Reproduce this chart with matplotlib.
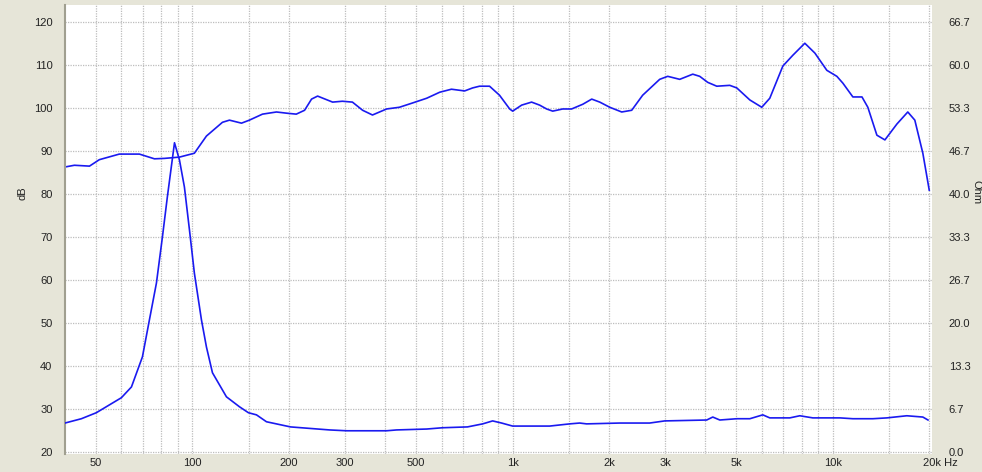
import matplotlib
matplotlib.use("Agg")
import matplotlib.pyplot as plt
import matplotlib.transforms as mtransforms
import numpy as np

# ---- data ----
spl_freq = [40, 42.8, 47.7, 51.2, 59.1, 68.3, 76.1, 81.8, 91.1, 101.4, 110.6, 124.1,
            130.5, 142.3, 150.6, 165.5, 183, 198, 211, 224, 235.5, 246, 274, 294, 316,
            340, 365, 404, 443, 487, 539, 592, 644, 708, 750, 788, 847, 910, 979, 1000,
            1067, 1146, 1214, 1277, 1334, 1433, 1528, 1656, 1766, 1871, 2010, 2191, 2354,
            2547, 2879, 3050, 3325, 3652, 3839, 4066, 4340, 4765, 5012, 5505, 5998, 6354,
            6981, 7499, 8175, 8790, 9576, 10292, 10750, 11548, 12330, 12860, 13725, 14540,
            15850, 17140, 18030, 19100, 20000]
spl_db = [86.3, 86.7, 86.5, 88.0, 89.3, 89.3, 88.2, 88.3, 88.6, 89.5, 93.5, 96.7,
          97.2, 96.5, 97.2, 98.6, 99.1, 98.8, 98.6, 99.5, 102.1, 102.8, 101.4, 101.6, 101.4,
          99.5, 98.4, 99.8, 100.2, 101.2, 102.3, 103.7, 104.4, 104.0, 104.7, 105.1, 105.1,
          103.0, 99.8, 99.3, 100.7, 101.4, 100.7, 99.8, 99.3, 99.8, 99.8, 100.9, 102.1,
          101.4, 100.2, 99.1, 99.5, 103.0, 106.7, 107.4, 106.7, 107.9, 107.4, 106.0, 105.1,
          105.3, 104.7, 101.9, 100.2, 102.3, 109.8, 112.3, 115.1, 112.8, 108.8, 107.4, 105.8,
          102.6, 102.6, 100.2, 93.7, 92.6, 96.3, 99.1, 97.2, 89.5, 80.9]

imp_freq = [40, 45, 50.1, 60, 64.5, 69.8, 73.4, 77.2, 80.6, 83.5, 87.9, 91.1, 94.4,
            97.9, 101.4, 106.7, 110.6, 115.5, 127.7, 140.2, 149.6, 158.5, 170.3, 202.4,
            268, 303, 404, 434, 539, 604, 723, 806, 866, 924, 1000, 1305, 1507, 1619,
            1702, 2160, 2679, 2985, 4037, 4217, 4436, 5012, 5505, 6043, 6354, 7337, 7884,
            8659, 10520, 11548, 13335, 14750, 17020, 19100, 19820]
imp_ohm = [4.47, 5.14, 6.07, 8.40, 10.07, 14.74, 20.48, 26.2, 33.35, 39.55, 47.96, 45.29,
           41.09, 34.42, 27.75, 20.48, 16.27, 12.27, 8.54, 7.0, 6.07, 5.74, 4.67, 3.87,
           3.40, 3.27, 3.27, 3.40, 3.54, 3.74, 3.87, 4.34, 4.80, 4.47, 4.0, 4.0, 4.34, 4.47,
           4.34, 4.47, 4.47, 4.80, 4.94, 5.40, 4.94, 5.14, 5.14, 5.74, 5.27, 5.27, 5.60,
           5.27, 5.27, 5.14, 5.14, 5.27, 5.60, 5.40, 4.94]

x_major = [50, 100, 200, 300, 500, 1000, 2000, 3000, 5000, 10000, 20000]
x_labels = ["50", "100", "200", "300", "500", "1k", "2k", "3k", "5k", "10k", "20k Hz"]
x_minor = [60, 70, 80, 90, 150, 400, 600, 700, 800, 900, 1500, 4000, 6000, 7000,
           8000, 9000, 15000]
db_ticks = [20, 30, 40, 50, 60, 70, 80, 90, 100, 110, 120]
ohm_ticks = [0.0, 6.67, 13.33, 20.0, 26.67, 33.33, 40.0, 46.67, 53.33, 60.0, 66.67]
ohm_labels = ["0.0", "6.7", "13.3", "20.0", "26.7", "33.3", "40.0", "46.7", "53.3", "60.0", "66.7"]

# ---- figure ----
plt.rcParams['font.family'] = ['Liberation Sans', 'DejaVu Sans']
BG = '#E6E5D8'
TXT = '#222222'
FS = 8
fig = plt.figure(figsize=(9.82, 4.72), dpi=100, facecolor=BG)
W, H = 982, 472
left, right, top, bottom = 65, 932, 5, 454
ax = fig.add_axes([left / W, 1 - bottom / H, (right - left) / W, (bottom - top) / H])
ax.set_facecolor('white')
ax.set_xscale('log')
db_lo, db_hi = 19.5, 124.0
ax.set_xlim(40, 20400)
ax.set_ylim(db_lo, db_hi)

ax.set_xticks(x_major)
ax.set_xticklabels(x_labels)
ax.set_xticks(x_minor, minor=True)
ax.xaxis.set_minor_formatter(matplotlib.ticker.NullFormatter())
ax.set_yticks(db_ticks)
ax.tick_params(axis='both', which='both', length=0, labelsize=FS, colors=TXT)
ax.tick_params(axis='x', pad=3)
ax.tick_params(axis='y', pad=9)

gridkw = dict(color='#BDBDBD', linewidth=0.9, linestyle=(0, (1, 1)))
ax.grid(True, which='major', axis='both', **gridkw)
ax.grid(True, which='minor', axis='x', **gridkw)
ax.set_axisbelow(True)

for s in ['top', 'right', 'bottom']:
    ax.spines[s].set_visible(False)
ax.spines['left'].set_color('#A09F90')
ax.spines['left'].set_linewidth(1.5)

# shift the last label "20k Hz"
last = ax.get_xticklabels()[-1]
last.set_horizontalalignment('left')
last.set_transform(last.get_transform() + mtransforms.ScaledTranslation(-6 / 100, 0, fig.dpi_scale_trans))

ax.plot(spl_freq, spl_db, color='#1A1AF0', linewidth=1.2)

ax2 = ax.twinx()
scale = 2.0 / 3.0
ax2.set_ylim((db_lo - 20) * scale, (db_hi - 20) * scale)
ax2.set_yticks(ohm_ticks)
ax2.set_yticklabels(ohm_labels)
ax2.tick_params(axis='y', length=0, labelsize=FS, colors=TXT, pad=12)
for s in ['top', 'right', 'bottom', 'left']:
    ax2.spines[s].set_visible(False)
ax2.plot(imp_freq, imp_ohm, color='#1A1AF0', linewidth=1.2)

fig.text(22 / W, 1 - 193 / H, 'dB', rotation=90, ha='center', va='center', fontsize=FS, color=TXT)
fig.text(976 / W, 1 - 192 / H, 'Ohm', rotation=270, ha='center', va='center', fontsize=FS, color=TXT)

fig.savefig('out.png', dpi=100, facecolor=BG)
